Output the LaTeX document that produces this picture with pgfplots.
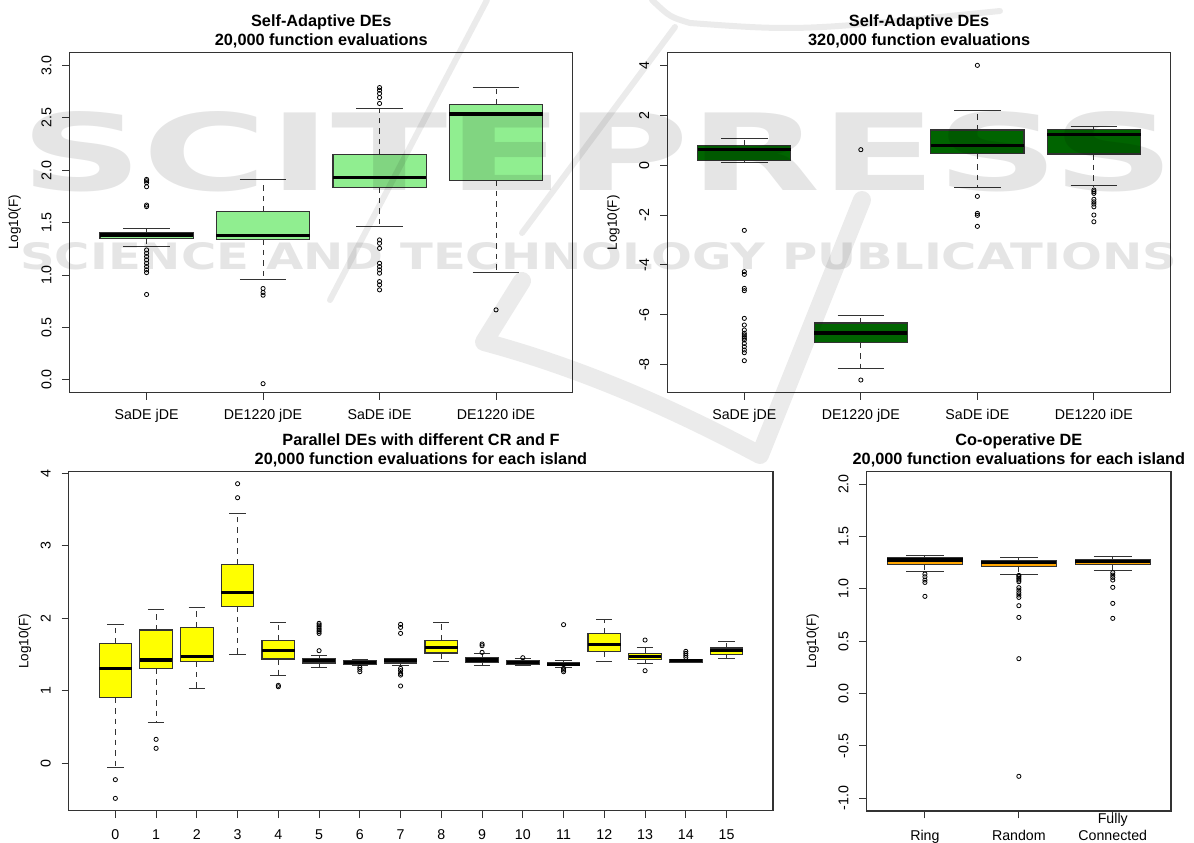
\documentclass[border=0pt]{standalone}
\usepackage{fontspec}
\setmainfont{Liberation Sans}
\newfontfamily\wmfont{DejaVu Sans}
\usepackage{graphicx}
\usepackage{pgfplots}
\pgfplotsset{compat=1.18}
\usepgfplotslibrary{statistics}
\definecolor{lgreen}{HTML}{90EE90}
\definecolor{dgreen}{HTML}{006400}
\definecolor{ryellow}{HTML}{FFFF00}
\definecolor{rorange}{HTML}{FFA500}
\definecolor{frame}{HTML}{333333}
\pgfplotsset{
  boxplot/draw/lower whisker/.code={%
    \draw[/pgfplots/boxplot/every whisker/.try, dash pattern=on 5.5bp off 5bp]
      (boxplot box cs:\pgfplotsboxplotvalue{lower quartile},0.5) --
      (boxplot box cs:\pgfplotsboxplotvalue{lower whisker},0.5);
    \draw[/pgfplots/boxplot/every whisker/.try]
      (boxplot whisker cs:\pgfplotsboxplotvalue{lower whisker},0) --
      (boxplot whisker cs:\pgfplotsboxplotvalue{lower whisker},1);
  },
  boxplot/draw/upper whisker/.code={%
    \draw[/pgfplots/boxplot/every whisker/.try, dash pattern=on 5.5bp off 5bp]
      (boxplot box cs:\pgfplotsboxplotvalue{upper quartile},0.5) --
      (boxplot box cs:\pgfplotsboxplotvalue{upper whisker},0.5);
    \draw[/pgfplots/boxplot/every whisker/.try]
      (boxplot whisker cs:\pgfplotsboxplotvalue{upper whisker},0) --
      (boxplot whisker cs:\pgfplotsboxplotvalue{upper whisker},1);
  },
  Rbox/.style={
    boxplot/draw direction=y,
    boxplot/box extend=0.8,
    boxplot/whisker extend=0.4,
    boxplot/every box/.style={draw=frame, line width=1.1bp, fill=#1},
    boxplot/every median/.style={line width=3.3bp, black},
    boxplot/every whisker/.style={line width=1bp, frame},
    mark=o, mark size=2.1bp,
    mark options={solid, line width=0.8bp, black, fill=none},
    draw=black, solid,
  },
  Raxis/.style={
    scale only axis, anchor=south west,
    axis line style={frame, line width=1.1bp},
    tick align=outside, tick pos=left,
    major tick length=7.3bp,
    tick style={frame, line width=1bp},
    font=\fontsize{14.2bp}{17bp}\selectfont,
    ticklabel style={font=\fontsize{14.2bp}{17bp}\selectfont},
    xticklabel style={anchor=base, yshift=-20bp, inner sep=0pt},
    yticklabel style={anchor=base, rotate=90, inner sep=0pt},
    yticklabel shift=11bp,
    ylabel={Log10(F)},
    label style={font=\fontsize{13.5bp}{16bp}\selectfont},
    title style={font=\fontsize{16.3bp}{19.3bp}\selectfont\bfseries, align=center,
      at={(axis description cs:0.5,1)}, anchor=south, inner sep=0pt, yshift=-2bp},
  },
}
\begin{document}
\begin{tikzpicture}[x=1bp,y=1bp]
\useasboundingbox (0,0) rectangle (1194bp,843bp);
\fill[white] (0,0) rectangle (1194bp,843bp);

% ---------------- top left
\begin{axis}[Raxis, at={(69.7bp,450.3bp)}, width=503.2bp, height=340.4bp,
  xmin=0.34, xmax=4.66, ymin=-0.124, ymax=3.127,
  xtick={1,2,3,4}, xticklabels={SaDE jDE, DE1220 jDE, SaDE iDE, DE1220 iDE},
  ytick={0,0.5,1,1.5,2,2.5,3}, yticklabels={0.0,0.5,1.0,1.5,2.0,2.5,3.0},
  ylabel style={at={([xshift=-55bp]axis description cs:0,0.5)}, anchor=center},
  title={Self-Adaptive DEs\\20,000 function evaluations}]
\addplot[Rbox=lgreen, boxplot prepared={draw position=1, lower whisker=1.268, lower quartile=1.351, median=1.382, upper quartile=1.408, upper whisker=1.443}]
  coordinates {(0,1.913)(0,1.900)(0,1.881)(0,1.843)(0,1.668)(0,1.653)(0,1.239)(0,1.208)(0,1.176)(0,1.144)(0,1.112)(0,1.080)(0,1.049)(0,1.023)(0,0.814)};
\addplot[Rbox=lgreen, boxplot prepared={draw position=2, lower whisker=0.957, lower quartile=1.341, median=1.379, upper quartile=1.605, upper whisker=1.913}]
  coordinates {(0,0.871)(0,0.833)(0,0.807)(0,-0.038)};
\addplot[Rbox=lgreen, boxplot prepared={draw position=3, lower whisker=1.465, lower quartile=1.837, median=1.932, upper quartile=2.148, upper whisker=2.587}]
  coordinates {(0,2.790)(0,2.765)(0,2.733)(0,2.695)(0,2.638)(0,1.335)(0,1.303)(0,1.255)(0,1.112)(0,1.080)(0,1.049)(0,1.017)(0,0.937)(0,0.906)(0,0.858)};
\addplot[Rbox=lgreen, boxplot prepared={draw position=4, lower whisker=1.020, lower quartile=1.904, median=2.539, upper quartile=2.628, upper whisker=2.790}]
  coordinates {(0,0.667)};
\end{axis}

% ---------------- top right
\begin{axis}[Raxis, at={(667.4bp,450.3bp)}, width=503.4bp, height=340bp,
  xmin=0.34, xmax=4.66, ymin=-9.123, ymax=4.508,
  xtick={1,2,3,4}, xticklabels={SaDE jDE, DE1220 jDE, SaDE iDE, DE1220 iDE},
  ytick={-8,-6,-4,-2,0,2,4}, yticklabels={-8,-6,-4,-2,0,2,4},
  ylabel style={at={([xshift=-54bp]axis description cs:0,0.5)}, anchor=center},
  title={Self-Adaptive DEs\\320,000 function evaluations}]
\addplot[Rbox=dgreen, boxplot prepared={draw position=1, lower whisker=0.111, lower quartile=0.178, median=0.632, upper quartile=0.779, upper whisker=1.073}]
  coordinates {(0,-2.615)(0,-4.272)(0,-4.379)(0,-4.940)(0,-5.034)(0,-6.143)(0,-6.41)(0,-6.61)(0,-6.74)(0,-6.81)(0,-6.88)(0,-6.94)(0,-7.01)(0,-7.15)(0,-7.28)(0,-7.41)(0,-7.52)(0,-7.84)};
\addplot[Rbox=dgreen, boxplot prepared={draw position=2, lower whisker=-8.161, lower quartile=-7.118, median=-6.731, upper quartile=-6.33, upper whisker=-6.009}]
  coordinates {(0,0.619)(0,-8.615)};
\addplot[Rbox=dgreen, boxplot prepared={draw position=3, lower whisker=-0.891, lower quartile=0.459, median=0.779, upper quartile=1.407, upper whisker=2.209}]
  coordinates {(0,4.0)(0,-1.252)(0,-1.934)(0,-2.014)(0,-2.455)};
\addplot[Rbox=dgreen, boxplot prepared={draw position=4, lower whisker=-0.824, lower quartile=0.445, median=1.220, upper quartile=1.434, upper whisker=1.568}]
  coordinates {(0,-0.998)(0,-1.065)(0,-1.132)(0,-1.37)(0,-1.47)(0,-1.56)(0,-1.67)(0,-2.0)(0,-2.27)};
\end{axis}

% ---------------- bottom left
\begin{axis}[Raxis, at={(68.9bp,32.3bp)}, width=704.1bp, height=339bp,
  xmin=-1.14, xmax=16.14, ymin=-0.653, ymax=4.023,
  xtick={0,1,...,15}, xticklabels={0,1,2,3,4,5,6,7,8,9,10,11,12,13,14,15},
  xticklabel style={yshift=-2bp},
  ytick={0,1,2,3,4}, yticklabels={0,1,2,3,4},
  ylabel style={at={([xshift=-44bp]axis description cs:0,0.5)}, anchor=center},
  title={Parallel DEs with different CR and F\\20,000 function evaluations for each island}]
\addplot[Rbox=ryellow, boxplot prepared={draw position=0, lower whisker=-0.055, lower quartile=0.906, median=1.306, upper quartile=1.651, upper whisker=1.917}]
  coordinates {(0,-0.225)(0,-0.483)};
\addplot[Rbox=ryellow, boxplot prepared={draw position=1, lower whisker=0.561, lower quartile=1.306, median=1.425, upper quartile=1.839, upper whisker=2.120}]
  coordinates {(0,0.331)(0,0.207)};
\addplot[Rbox=ryellow, boxplot prepared={draw position=2, lower whisker=1.030, lower quartile=1.407, median=1.476, upper quartile=1.876, upper whisker=2.147}]
  coordinates {};
\addplot[Rbox=ryellow, boxplot prepared={draw position=3, lower whisker=1.503, lower quartile=2.166, median=2.359, upper quartile=2.745, upper whisker=3.444}]
  coordinates {(0,3.857)(0,3.664)};
\addplot[Rbox=ryellow, boxplot prepared={draw position=4, lower whisker=1.218, lower quartile=1.439, median=1.559, upper quartile=1.692, upper whisker=1.945}]
  coordinates {(0,1.076)(0,1.057)};
\addplot[Rbox=ryellow, boxplot prepared={draw position=5, lower whisker=1.329, lower quartile=1.384, median=1.416, upper quartile=1.439, upper whisker=1.494}]
  coordinates {(0,1.554)(0,1.931)(0,1.908)(0,1.885)(0,1.862)(0,1.839)(0,1.816)(0,1.793)};
\addplot[Rbox=ryellow, boxplot prepared={draw position=6, lower whisker=1.347, lower quartile=1.370, median=1.393, upper quartile=1.421, upper whisker=1.430}]
  coordinates {(0,1.324)(0,1.297)(0,1.264)};
\addplot[Rbox=ryellow, boxplot prepared={draw position=7, lower whisker=1.347, lower quartile=1.384, median=1.416, upper quartile=1.439, upper whisker=1.453}]
  coordinates {(0,1.917)(0,1.876)(0,1.793)(0,1.310)(0,1.278)(0,1.241)(0,1.218)(0,1.067)};
\addplot[Rbox=ryellow, boxplot prepared={draw position=8, lower whisker=1.402, lower quartile=1.522, median=1.595, upper quartile=1.697, upper whisker=1.936}]
  coordinates {};
\addplot[Rbox=ryellow, boxplot prepared={draw position=9, lower whisker=1.343, lower quartile=1.398, median=1.425, upper quartile=1.453, upper whisker=1.517}]
  coordinates {(0,1.646)(0,1.623)(0,1.531)};
\addplot[Rbox=ryellow, boxplot prepared={draw position=10, lower whisker=1.356, lower quartile=1.370, median=1.393, upper quartile=1.416, upper whisker=1.444}]
  coordinates {(0,1.457)};
\addplot[Rbox=ryellow, boxplot prepared={draw position=11, lower whisker=1.329, lower quartile=1.347, median=1.366, upper quartile=1.389, upper whisker=1.416}]
  coordinates {(0,1.913)(0,1.310)(0,1.287)(0,1.264)};
\addplot[Rbox=ryellow, boxplot prepared={draw position=12, lower whisker=1.402, lower quartile=1.545, median=1.641, upper quartile=1.793, upper whisker=1.991}]
  coordinates {};
\addplot[Rbox=ryellow, boxplot prepared={draw position=13, lower whisker=1.375, lower quartile=1.434, median=1.476, upper quartile=1.517, upper whisker=1.600}]
  coordinates {(0,1.701)(0,1.278)};
\addplot[Rbox=ryellow, boxplot prepared={draw position=14, lower whisker=1.389, lower quartile=1.398, median=1.416, upper quartile=1.434, upper whisker=1.439}]
  coordinates {(0,1.545)(0,1.517)(0,1.490)(0,1.462)};
\addplot[Rbox=ryellow, boxplot prepared={draw position=15, lower whisker=1.444, lower quartile=1.503, median=1.559, upper quartile=1.591, upper whisker=1.687}]
  coordinates {};
\end{axis}

% ---------------- bottom right
\begin{axis}[Raxis, at={(866.7bp,32bp)}, width=304.3bp, height=339.3bp,
  xmin=0.38, xmax=3.62, ymin=-1.121, ymax=2.118,
  xtick={1,2,3}, xticklabels={Ring, Random, {\begin{tabular}[b]{@{}c@{}}Fully\\Connected\end{tabular}}},
  xticklabel style={yshift=-2bp},
  ytick={-1,-0.5,0,0.5,1,1.5,2}, yticklabels={-1.0,-0.5,0.0,0.5,1.0,1.5,2.0},
  ylabel style={at={([xshift=-54bp]axis description cs:0,0.5)}, anchor=center},
  title={Co-operative DE\\20,000 function evaluations for each island}]
\addplot[Rbox=rorange, boxplot prepared={draw position=1, lower whisker=1.163, lower quartile=1.236, median=1.275, upper quartile=1.297, upper whisker=1.319}]
  coordinates {(0,1.141)(0,1.115)(0,1.084)(0,1.061)(0,0.928)};
\addplot[Rbox=rorange, boxplot prepared={draw position=2, lower whisker=1.141, lower quartile=1.211, median=1.252, upper quartile=1.272, upper whisker=1.300}]
  coordinates {(0,1.128)(0,1.115)(0,1.100)(0,1.084)(0,1.068)(0,1.011)(0,0.988)(0,0.963)(0,0.941)(0,0.918)(0,0.839)(0,0.727)(0,0.333)(0,-0.790)};
\addplot[Rbox=rorange, boxplot prepared={draw position=3, lower whisker=1.173, lower quartile=1.232, median=1.258, upper quartile=1.278, upper whisker=1.310}]
  coordinates {(0,1.154)(0,1.131)(0,1.109)(0,1.084)(0,1.014)(0,0.861)(0,0.718)};
\end{axis}

% ---------------- watermark
\begin{scope}[opacity=0.1]
\node[anchor=south west, inner sep=0pt] at (20bp,651bp)
  {\resizebox{1153bp}{79bp}{\wmfont\bfseries SCITEPRESS}};
\node[anchor=south west, inner sep=0pt] at (20bp,573bp)
  {\resizebox{1157bp}{27bp}{\wmfont\bfseries SCIENCE AND TECHNOLOGY PUBLICATIONS}};
\end{scope}
\begin{scope}[opacity=0.08, line cap=round, line join=round, black]
\draw[line width=6bp] (487,843) -- (330,543);
\draw[line width=6bp] (675,816) -- (522,610);
\draw[line width=6bp] (652,843) .. controls (670,826) .. (690,820) .. controls (800,812) .. (1000,832);
\draw[line width=18bp] (522,562) -- (484,501) .. controls (600,470) and (700,420) .. (760,388) -- (862,643);
\end{scope}
\end{tikzpicture}
\end{document}
